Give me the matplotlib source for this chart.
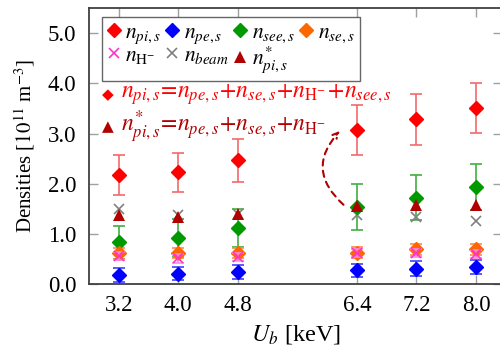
import matplotlib
matplotlib.use("Agg")
import matplotlib.pyplot as plt

plt.rcParams['font.family'] = ['Liberation Serif', 'DejaVu Sans']
plt.rcParams['mathtext.fontset'] = 'stix'

U_b = [3.2, 4.0, 4.8, 6.4, 7.2, 8.0]
xtick_labels = ['3.2', '4.0', '4.8', '6.4', '7.2', '8.0']
yticks = [0.0, 1.0, 2.0, 3.0, 4.0, 5.0]

n_pi = [2.18, 2.23, 2.47, 3.07, 3.28, 3.51]
n_pi_err = [0.40, 0.39, 0.43, 0.50, 0.50, 0.50]
n_pe = [0.19, 0.21, 0.25, 0.28, 0.31, 0.34]
n_pe_err = [0.14, 0.13, 0.14, 0.13, 0.14, 0.14]
n_see = [0.83, 0.92, 1.11, 1.53, 1.72, 1.94]
n_see_err = [0.33, 0.38, 0.38, 0.46, 0.45, 0.46]
n_se = [0.61, 0.61, 0.61, 0.62, 0.69, 0.69]
n_se_err = [0.11, 0.10, 0.10, 0.11, 0.11, 0.11]
n_hm = [0.56, 0.51, 0.53, 0.61, 0.62, 0.60]
n_hm_err = [0.08, 0.08, 0.08, 0.08, 0.08, 0.08]
n_beam = [1.50, 1.37, 1.40, 1.37, 1.33, 1.25]
n_pi_star = [1.37, 1.33, 1.39, 1.55, 1.58, 1.58]

fig = plt.figure(figsize=(5.0, 3.49), dpi=100)
ax = fig.add_axes([0.178, 0.186, 0.826, 0.791])

C_RED = '#ff0000'
C_BLUE = '#0000ff'
C_GREEN = '#009900'
C_ORANGE = '#ff6600'
C_MAG = '#ff33cc'
C_GREY = '#808080'
C_DRED = '#b00000'

ms = 7.5
cap = 4

def eb(y, err, color, ecolor, label, z):
    return ax.errorbar(U_b, y, yerr=err, fmt='D', color=color, ms=ms,
                       mec=color, ecolor=ecolor, elinewidth=1.2, capsize=cap,
                       capthick=1.2, label=label, zorder=z)

h_pi = eb(n_pi, n_pi_err, C_RED, '#f26a6a', r'$n_{pi,s}$', 3)
h_pe = eb(n_pe, n_pe_err, C_BLUE, '#4040ff', r'$n_{pe,s}$', 3)
h_see = eb(n_see, n_see_err, C_GREEN, '#40b040', r'$n_{see,s}$', 3)
h_se = eb(n_se, n_se_err, C_ORANGE, '#ff8a50', r'$n_{se,s}$', 3)
h_hm = ax.errorbar(U_b, n_hm, yerr=n_hm_err, fmt='x', color=C_MAG, ms=7, mew=1.2,
                   ecolor='#ff8ad8', elinewidth=1.2, capsize=cap, capthick=1.2,
                   label=r'$n_{\mathrm{H}^{-}}$', zorder=4)
h_beam, = ax.plot(U_b, n_beam, 'x', color=C_GREY, ms=7, mew=1.2,
                  label=r'$n_{beam}$', zorder=3)
h_star, = ax.plot(U_b, n_pi_star, '^', color=C_DRED, ms=9, mew=0,
                  label=r'$n^{*}_{pi,s}$', zorder=5)

ax.set_xlim(2.8, 8.35)
ax.set_ylim(0, 5.5)
ax.set_xticks(U_b)
ax.set_xticklabels(xtick_labels)
ax.set_yticks(yticks)
ax.set_yticklabels([f'{v:.1f}' for v in yticks])
ax.tick_params(direction='in', length=6.5, width=1, color='#a0a0a0',
               top=True, right=True, labelsize=16.5)
ax.tick_params(axis='y', pad=9)
ax.tick_params(axis='x', pad=8)
for s in ax.spines.values():
    s.set_color('#404040')
    s.set_linewidth(1.3)

ax.set_xlabel(r'$U_b$ [keV]', fontsize=17.5, labelpad=5)
ax.set_ylabel(r'Densities [$10^{11}$ m$^{-3}$]', fontsize=15, labelpad=8)

handles = [h_pi[0], h_hm[0], h_pe[0], h_beam, h_see[0], h_star, h_se[0]]
labels = [r'$n_{pi,s}$', r'$n_{\mathrm{H}^{-}}$', r'$n_{pe,s}$', r'$n_{beam}$',
          r'$n_{see,s}$', r'$n^{*}_{pi,s}$', r'$n_{se,s}$']
leg = ax.legend(handles, labels, loc='upper left', ncol=4, fontsize=15.5,
                frameon=True, fancybox=False, edgecolor='#404040',
                handlelength=0.6, handletextpad=0.25, columnspacing=0.2,
                borderpad=0.25, labelspacing=0.0, borderaxespad=0,
                bbox_to_anchor=(0.031, 0.967))
leg.get_frame().set_linewidth(1.0)

ax.text(0.046, 0.685, '◆', transform=ax.transAxes, color=C_RED,
        fontsize=11, va='center', ha='center', family='DejaVu Sans')
ax.text(0.077, 0.685,
        r'$n_{pi,s}\!=\!n_{pe,s}\!+\!n_{se,s}\!+\!n_{\mathrm{H}^{-}}\!+\!n_{see,s}$',
        transform=ax.transAxes, color=C_RED, fontsize=17, va='center', ha='left')
ax.text(0.046, 0.569, '▲', transform=ax.transAxes, color=C_DRED,
        fontsize=11, va='center', ha='center', family='DejaVu Sans')
ax.text(0.077, 0.569, r'$n^{*}_{pi,s}\!=\!n_{pe,s}\!+\!n_{se,s}\!+\!n_{\mathrm{H}^{-}}$',
        transform=ax.transAxes, color=C_DRED, fontsize=17, va='center', ha='left')

ax.annotate('', xy=(6.17, 3.05), xytext=(6.22, 1.58),
            arrowprops=dict(arrowstyle='->', color=C_DRED, lw=1.5, ls=(0, (3, 2.5)),
                            connectionstyle='arc3,rad=-0.5', shrinkA=0, shrinkB=0),
            zorder=2)

fig.savefig('out.png', dpi=100)
